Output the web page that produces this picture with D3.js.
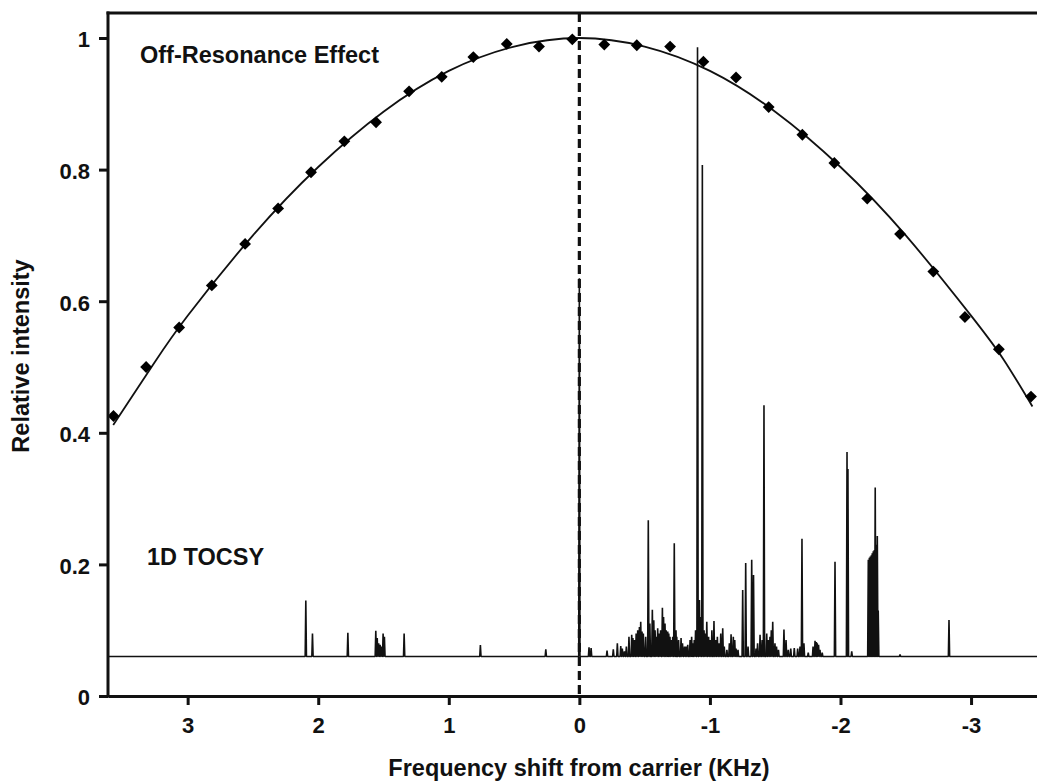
<!DOCTYPE html>
<html>
<head>
<meta charset="utf-8">
<script src="https://cdn.jsdelivr.net/npm/d3@7"></script>
<style>
  html, body { margin: 0; padding: 0; background: #fff; }
  svg { display: block; }
  text { font-family: "Liberation Sans", Arial, Helvetica, sans-serif; font-weight: bold; fill: #111; }
</style>
</head>
<body>
<svg id="chart" width="1037" height="782"></svg>
<script>
// ---------------- data ----------------
const xTicks = [3, 2, 1, 0, -1, -2, -3];
const yTicks = [0, 0.2, 0.4, 0.6, 0.8, 1];

// Off-resonance measured points (frequency kHz, relative intensity)
const offResFreq = [3.568, 3.318, 3.065, 2.815, 2.56, 2.307, 2.055, 1.80, 1.557, 1.304, 1.054, 0.812, 0.556, 0.309, 0.054,
  -0.191, -0.44, -0.695, -0.95, -1.20, -1.45, -1.708, -1.953, -2.205, -2.456, -2.711, -2.953, -3.213, -3.459];
const offResIntensity = [0.4255, 0.500, 0.560, 0.624, 0.687, 0.741, 0.796, 0.843, 0.872, 0.919, 0.941, 0.971, 0.991, 0.987, 0.998,
  0.990, 0.989, 0.987, 0.964, 0.940, 0.895, 0.853, 0.810, 0.756, 0.702, 0.645, 0.576, 0.527, 0.455];

// Fitted curve
const fitFreq = [3.57, 3.25, 3.0, 2.5, 2.0, 1.5, 1.0, 0.5, 0.0, -0.5, -1.0, -1.5, -2.0, -2.5, -3.0, -3.25, -3.47];
const fitIntensity = [0.412, 0.508, 0.578, 0.700, 0.804, 0.888, 0.950, 0.987, 1.0, 0.987, 0.950, 0.888, 0.804, 0.700, 0.578, 0.511, 0.440];

// 1D TOCSY spectrum: baseline and peaks (frequency kHz, height)
const spectrumBaseline = 0.06;
const peakFreq = [2.095, 2.044, 1.773, 1.559, 1.548, 1.537, 1.526, 1.514, 1.503, 1.493, 1.342, 0.758, 0.257, 0.0,
  -0.074, -0.090, -0.212, -0.260, -0.291, -0.317, -0.329, -0.345, -0.360, -0.380, -0.401, -0.410, -0.421, -0.435, -0.447,
  -0.460, -0.470, -0.480, -0.490, -0.508, -0.528, -0.540, -0.559, -0.570, -0.580, -0.590, -0.600, -0.612, -0.622,
  -0.636, -0.645, -0.656, -0.665, -0.677, -0.685, -0.694, -0.705, -0.715, -0.727, -0.740, -0.746, -0.760, -0.779,
  -0.790, -0.805, -0.817, -0.830, -0.848, -0.860, -0.868, -0.880, -0.890,
  -0.905, -0.920, -0.930, -0.942, -0.955, -0.965, -0.976, -0.990, -1.001, -1.015, -1.031, -1.045, -1.057, -1.070,
  -1.083, -1.098, -1.110, -1.130, -1.149, -1.162, -1.179, -1.190, -1.200, -1.215,
  -1.251, -1.274, -1.292, -1.320, -1.334, -1.353, -1.365, -1.384, -1.400, -1.414, -1.435, -1.447, -1.460, -1.470,
  -1.481, -1.498, -1.510, -1.525, -1.567, -1.583, -1.600, -1.619, -1.646, -1.672, -1.690, -1.705, -1.720, -1.753,
  -1.790, -1.805, -1.815, -1.822, -1.832, -1.843, -1.860, -1.958, -2.050, -2.057, -2.086,
  -2.213, -2.221, -2.228, -2.236, -2.243, -2.251, -2.259, -2.266, -2.274, -2.282, -2.289, -2.456, -2.831];
const peakHeight = [0.145, 0.095, 0.096, 0.099, 0.088, 0.080, 0.078, 0.075, 0.095, 0.090, 0.095, 0.0775, 0.071, 0.635,
  0.074, 0.073, 0.069, 0.071, 0.080, 0.076, 0.072, 0.068, 0.075, 0.090, 0.093, 0.088, 0.085, 0.095, 0.100,
  0.105, 0.113, 0.098, 0.095, 0.090, 0.267, 0.110, 0.131, 0.115, 0.100, 0.090, 0.103, 0.095, 0.100,
  0.134, 0.120, 0.110, 0.100, 0.098, 0.095, 0.090, 0.085, 0.090, 0.232, 0.100, 0.090, 0.085, 0.088,
  0.080, 0.075, 0.075, 0.078, 0.085, 0.090, 0.080, 0.085, 0.100,
  0.986, 0.146, 0.120, 0.807, 0.100, 0.095, 0.113, 0.090, 0.085, 0.100, 0.114, 0.085, 0.090, 0.080,
  0.095, 0.103, 0.075, 0.070, 0.080, 0.094, 0.090, 0.085, 0.072, 0.070,
  0.161, 0.202, 0.075, 0.207, 0.184, 0.072, 0.080, 0.093, 0.085, 0.442, 0.095, 0.085, 0.090, 0.100,
  0.113, 0.080, 0.075, 0.070, 0.101, 0.085, 0.070, 0.072, 0.073, 0.072, 0.075, 0.239, 0.080, 0.066,
  0.075, 0.084, 0.082, 0.080, 0.078, 0.070, 0.066, 0.204, 0.371, 0.345, 0.068,
  0.207, 0.210, 0.212, 0.214, 0.217, 0.220, 0.222, 0.317, 0.230, 0.243, 0.130, 0.063, 0.1155];

// ---------------- chart ----------------
const svg = d3.select("#chart");
const plotLeft = 108, plotRight = 1040, plotTop = 13, plotBottom = 696;

const x = d3.scaleLinear().domain([3.61, -3.528]).range([plotLeft, plotRight]);
const y = d3.scaleLinear().domain([0, 1.038]).range([plotBottom, plotTop]);

// spectrum
const halfW = 0.0048;
const peaks = peakFreq.map((f, i) => ({ f, h: peakHeight[i] })).sort((a, b) => b.f - a.f);
const specPts = [[x.domain()[0], spectrumBaseline]];
peaks.forEach(p => {
  specPts.push([p.f + halfW, spectrumBaseline]);
  specPts.push([p.f, p.h]);
  specPts.push([p.f - halfW, spectrumBaseline]);
});
specPts.push([x.domain()[1], spectrumBaseline]);

svg.append("path")
  .attr("d", d3.line().x(d => x(d[0])).y(d => y(d[1]))(specPts))
  .attr("fill", "none").attr("stroke", "#111").attr("stroke-width", 1.6)
  .attr("stroke-linejoin", "bevel");

// dashed carrier line
svg.append("line")
  .attr("x1", x(0)).attr("x2", x(0)).attr("y1", plotTop).attr("y2", plotBottom)
  .attr("stroke", "#111").attr("stroke-width", 3.2).attr("stroke-dasharray", "9,5");

// fitted curve
svg.append("path")
  .attr("d", d3.line().curve(d3.curveNatural).x((d, i) => x(fitFreq[i])).y(d => y(d))(fitIntensity))
  .attr("fill", "none").attr("stroke", "#111").attr("stroke-width", 1.8);

// diamonds
const diamond = d3.symbol().type(d3.symbolSquare).size(70);
svg.append("g").selectAll("path")
  .data(offResFreq.map((f, i) => [f, offResIntensity[i]]))
  .join("path")
  .attr("d", diamond)
  .attr("transform", d => `translate(${x(d[0])},${y(d[1])}) rotate(45)`)
  .attr("fill", "#000");

// axes
const xAxis = svg.append("g").attr("transform", `translate(0,${plotBottom})`)
  .call(d3.axisBottom(x).tickValues(xTicks).tickSize(9).tickSizeOuter(0).tickFormat(d => String(d)));
xAxis.selectAll("line").attr("stroke", "#111").attr("stroke-width", 3);
xAxis.select(".domain").attr("stroke", "#111").attr("stroke-width", 3);
xAxis.selectAll("text").attr("y", 37).attr("dy", 0)
  .style("font-size", "22px").style("font-family", '"Liberation Sans", Arial, sans-serif').style("font-weight", "bold").attr("fill", "#111");

const yAxis = svg.append("g").attr("transform", `translate(${plotLeft},0)`)
  .call(d3.axisLeft(y).tickValues(yTicks).tickSize(9).tickSizeOuter(0).tickFormat(d => String(d)));
yAxis.selectAll("line").attr("stroke", "#111").attr("stroke-width", 3);
yAxis.select(".domain").remove();
yAxis.selectAll("text").attr("x", -18).attr("dy", "0.4em")
  .style("font-size", "22px").style("font-family", '"Liberation Sans", Arial, sans-serif').style("font-weight", "bold").attr("fill", "#111");

// frame
svg.append("line").attr("x1", plotLeft).attr("x2", plotLeft).attr("y1", plotTop - 1.5).attr("y2", plotBottom + 1.5)
  .attr("stroke", "#111").attr("stroke-width", 3);
svg.append("line").attr("x1", plotLeft - 1.5).attr("x2", plotRight).attr("y1", plotTop).attr("y2", plotTop)
  .attr("stroke", "#111").attr("stroke-width", 3);

// labels
svg.append("text").attr("x", 140).attr("y", 63).style("font-size", "23.5px").text("Off-Resonance Effect");
svg.append("text").attr("x", 147).attr("y", 565).style("font-size", "23.5px").text("1D TOCSY");
svg.append("text").attr("x", 579).attr("y", 776).attr("text-anchor", "middle").style("font-size", "23.5px")
  .text("Frequency shift from carrier (KHz)");
svg.append("text").attr("transform", "translate(29,356) rotate(-90)").attr("text-anchor", "middle")
  .style("font-size", "23.5px").text("Relative intensity");
</script>
</body>
</html>
